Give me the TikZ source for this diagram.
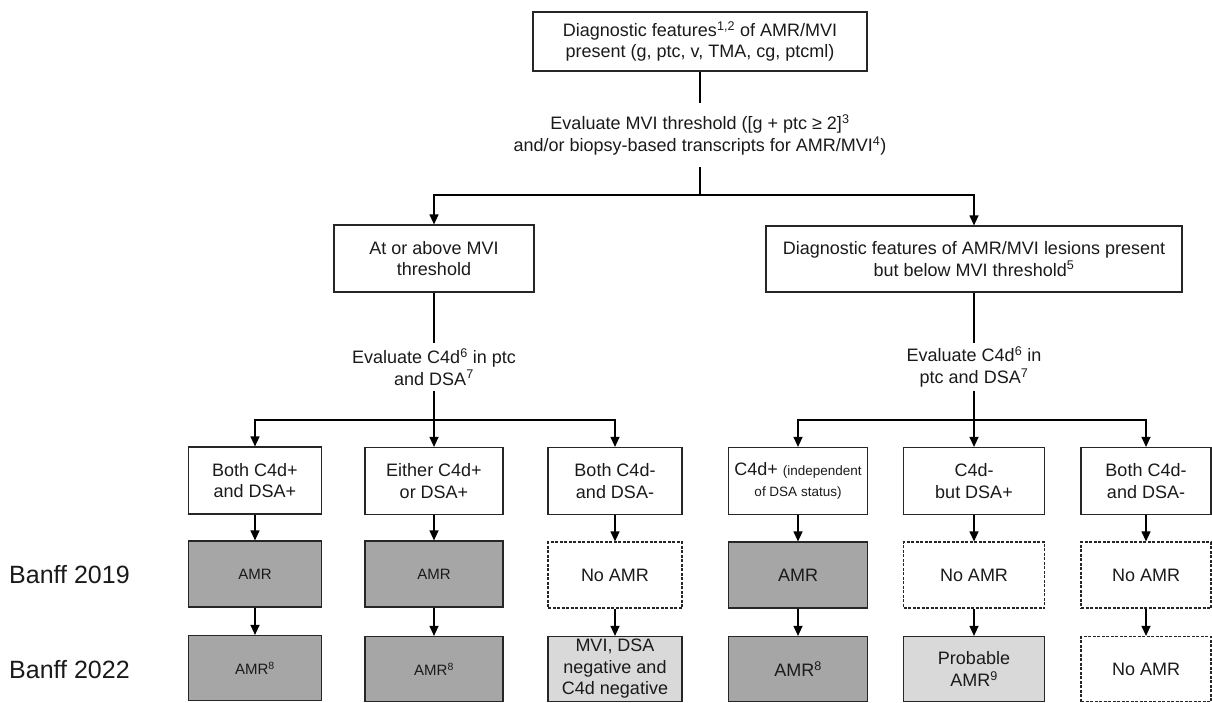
\documentclass[tikz,border=0pt]{standalone}
\usepackage{fontspec}
\setmainfont{Liberation Sans}
\usetikzlibrary{arrows.meta}
\definecolor{dk}{HTML}{A6A6A6}
\definecolor{lt}{HTML}{D9D9D9}
\definecolor{ln}{HTML}{262626}
\definecolor{txt}{HTML}{1A1A1A}
\newcommand\fsN{\fontsize{18}{21.5}\selectfont}
\newcommand\fsS{\fontsize{13.5}{16}\selectfont}
\newcommand\fsA{\fontsize{15}{18}\selectfont}
\newcommand\fsB{\fontsize{25}{30}\selectfont}
\begin{document}
\begin{tikzpicture}[x=1pt,y=-1pt,
  box/.style={draw=ln, line width=1.2pt, align=center, inner sep=0pt, font=\fsN, text=txt},
  dkbox/.style={box, fill=dk},
  ltbox/.style={box, fill=lt},
  dbox/.style={box, dash pattern=on 3pt off 1.5pt},
  lbl/.style={align=center, inner sep=0pt, font=\fsN, text=txt},
  conn/.style={draw=black, line width=1.2pt},
  arr/.style={conn, -{Triangle[length=10pt,width=9pt]}},
  rowA/.style={minimum height=67},
  rowB/.style={minimum height=66},
  rowC/.style={minimum height=65}
]
\useasboundingbox (0,0) rectangle (1212,702);

% top
\node[box, minimum width=334, minimum height=59] (top) at (700,41.5)
  {Diagnostic features\textsuperscript{1,2} of AMR/MVI\\present (g, ptc, v, TMA, cg, ptcml)};
\node[lbl, minimum height=64] (ev) at (700,135)
  {Evaluate MVI threshold ([g + ptc ≥ 2]\textsuperscript{3}\\and/or biopsy-based transcripts for AMR/MVI\textsuperscript{4})};
\coordinate (j0) at (700,195);

% second level
\node[box, minimum width=200, minimum height=67] (L) at (434,258.5)
  {At or above MVI\\threshold};
\node[box, minimum width=416, minimum height=66] (R) at (974,259)
  {Diagnostic features of AMR/MVI lesions present\\but below MVI threshold\textsuperscript{5}};

\node[lbl, minimum height=47] (evL) at (434,367)
  {Evaluate C4d\textsuperscript{6} in ptc\\and DSA\textsuperscript{7}};
\node[lbl, minimum height=47] (evR) at (974,367)
  {Evaluate C4d\textsuperscript{6} in\\ptc and DSA\textsuperscript{7}};
\coordinate (jL) at (434,420);
\coordinate (jR) at (974,420);

% row A
\node[box, rowA, minimum width=133] (a1) at (255,480.5) {Both C4d+\\and DSA+};
\node[box, rowA, minimum width=138] (a2) at (434,481) {Either C4d+\\or DSA+};
\node[box, rowA, minimum width=134] (a3) at (615,481) {Both C4d-\\and DSA-};
\node[box, rowA, minimum width=139] (a4) at (798,481) {C4d+ {\fsS(independent}\\{\fsS of DSA status)}};
\node[box, rowA, minimum width=141] (a5) at (974,481) {C4d-\\but DSA+};
\node[box, rowA, minimum width=130] (a6) at (1146,481) {Both C4d-\\and DSA-};

% row B (Banff 2019)
\node[dkbox, rowB, minimum width=133, font=\fsA] (b1) at (255,574) {AMR};
\node[dkbox, rowB, minimum width=138, font=\fsA] (b2) at (434,574) {AMR};
\node[dbox, rowB, minimum width=134] (b3) at (615,575) {No AMR};
\node[dkbox, rowB, minimum width=139] (b4) at (798,575) {AMR};
\node[dbox, rowB, minimum width=141] (b5) at (974,575) {No AMR};
\node[dbox, rowB, minimum width=130] (b6) at (1146,575) {No AMR};

% row C (Banff 2022)
\node[dkbox, rowC, minimum width=133, font=\fsA] (c1) at (255,668) {AMR\textsuperscript{8}};
\node[dkbox, rowC, minimum width=138, font=\fsA] (c2) at (434,669) {AMR\textsuperscript{8}};
\node[ltbox, rowC, minimum width=134] (c3) at (615,669) {MVI, DSA\\negative and\\C4d negative};
\node[dkbox, rowC, minimum width=139] (c4) at (798,669) {AMR\textsuperscript{8}};
\node[ltbox, rowC, minimum width=141] (c5) at (974,669) {Probable\\AMR\textsuperscript{9}};
\node[dbox, rowC, minimum width=130] (c6) at (1146,669) {No AMR};

% row labels
\node[lbl, font=\fsB, anchor=west] (y19) at (9,575) {Banff 2019};
\node[lbl, font=\fsB, anchor=west] (y22) at (9,670) {Banff 2022};

% connectors
\draw[conn] (top.south) -- (ev.north);
\draw[conn] (ev.south) -- (j0);
\draw[arr] (j0) -| (L.north);
\draw[arr] (j0) -| (R.north);
\draw[conn] (L.south) -- (evL.north);
\draw[conn] (evL.south) -- (jL);
\draw[conn] (R.south) -- (evR.north);
\draw[conn] (evR.south) -- (jR);
\draw[arr] (jL) -| (a1.north);
\draw[arr] (jL) -- (a2.north);
\draw[arr] (jL) -| (a3.north);
\draw[arr] (jR) -| (a4.north);
\draw[arr] (jR) -- (a5.north);
\draw[arr] (jR) -| (a6.north);
\foreach \i in {1,...,6}{
  \draw[arr] (a\i.south) -- (b\i.north);
  \draw[arr] (b\i.south) -- (c\i.north);
}
\end{tikzpicture}
\end{document}
